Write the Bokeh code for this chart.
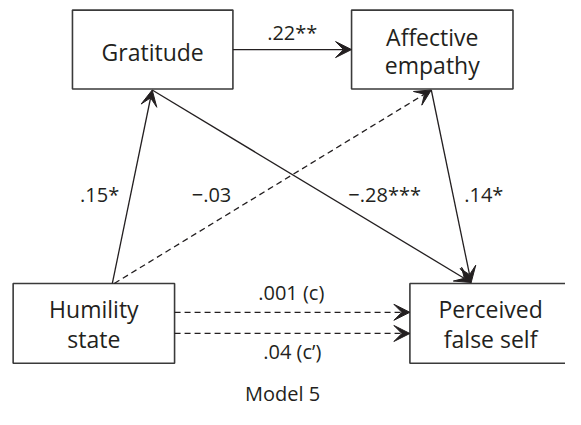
from bokeh.plotting import figure
from bokeh.models import Range1d, Arrow, VeeHead, ColumnDataSource
from bokeh.core.properties import value
from bokeh.embed import file_html
from bokeh.resources import INLINE

# ---------------- data ----------------
node_names = ["Gratitude", "Affective empathy", "Humility state", "Perceived false self"]
node_lines = [["Gratitude"], ["Affective", "empathy"], ["Humility", "state"], ["Perceived", "false self"]]
path_from = ["Gratitude", "Humility state", "Humility state", "Gratitude",
             "Affective empathy", "Humility state", "Humility state"]
path_to = ["Affective empathy", "Gratitude", "Affective empathy", "Perceived false self",
           "Perceived false self", "Perceived false self", "Perceived false self"]
coef_labels = [".22**", ".15*", "\u2212.03", "\u2212.28***", ".14*", ".001 (c)", ".04 (c\u2019)"]
significant = [True, True, False, True, True, False, False]
caption = "Model 5"

# ---------------- layout (reference pixel coordinates) ----------------
W, H = 565, 409
REF_W, REF_H = 581, 425
box_geom = {
    "Gratitude": (74, 10, 239, 92),
    "Affective empathy": (361, 10, 527, 92),
    "Humility state": (13, 294, 179, 377),
    "Perceived false self": (421, 294, 600, 377),
}
text_anchor = {  # center x, first baseline, line spacing
    "Gratitude": (156.5, 62, 29),
    "Affective empathy": (444, 46, 29),
    "Humility state": (96, 329, 31),
    "Perceived false self": (504, 329, 31),
}
path_start = [(239, 51), (115, 294), (117, 294), (156, 93), (443, 93), (179, 324), (179, 346)]
path_end = [(361, 51), (156, 93), (443, 93), (484, 293), (484, 293), (421, 324), (421, 346)]
label_pos = [(300, 42), (102, 210), (217, 210), (395, 210), (497, 210), (299, 312), (300, 373)]
caption_pos = (290, 417)
BASE_SHIFT = -8  # screen px correction for baseline placement

INK = "#231f20"
FONT = value("Open Sans")

p = figure(width=W, height=H, output_backend="svg", toolbar_location=None,
           x_range=Range1d(0, REF_W), y_range=Range1d(REF_H, 0),
           x_axis_type=None, y_axis_type=None, min_border=0,
           min_border_left=0, min_border_right=0, min_border_top=0, min_border_bottom=0)
p.outline_line_color = None
p.xgrid.visible = False
p.ygrid.visible = False
p.background_fill_color = "white"
p.border_fill_color = "white"

# boxes
left = [box_geom[n][0] for n in node_names]
top = [box_geom[n][1] for n in node_names]
right = [box_geom[n][2] for n in node_names]
bottom = [box_geom[n][3] for n in node_names]
p.quad(left=left, right=right, top=top, bottom=bottom, fill_color=None,
       line_color="#3a3a3a", line_width=1.6)

# node texts
tx, ty, tt = [], [], []
for n, lines in zip(node_names, node_lines):
    cx, by, sp = text_anchor[n]
    for i, ln in enumerate(lines):
        tx.append(cx)
        ty.append(by + i * sp)
        tt.append(ln)
p.text(x=tx, y=ty, text=tt, text_align="center", text_baseline="alphabetic",
       y_offset=BASE_SHIFT, text_font=FONT, text_font_size="23px", text_color=INK)

# paths
for sig_flag, dash in [(True, "solid"), (False, "6 4")]:
    idx = [i for i, s in enumerate(significant) if s == sig_flag]
    src = ColumnDataSource(dict(
        x0=[path_start[i][0] for i in idx], y0=[path_start[i][1] for i in idx],
        x1=[path_end[i][0] for i in idx], y1=[path_end[i][1] for i in idx]))
    p.add_layout(Arrow(source=src, x_start="x0", y_start="y0", x_end="x1", y_end="y1",
                       line_color=INK, line_width=1.3, line_dash=dash,
                       end=VeeHead(size=16, fill_color=INK, line_color=INK, line_width=1)))

# coefficient labels
p.text(x=[q[0] for q in label_pos], y=[q[1] for q in label_pos], text=coef_labels,
       text_align="center", text_baseline="alphabetic", y_offset=BASE_SHIFT,
       text_font=FONT, text_font_size="20px", text_color=INK)

# caption
p.text(x=[caption_pos[0]], y=[caption_pos[1]], text=[caption], text_align="center",
       text_baseline="alphabetic", y_offset=BASE_SHIFT, text_font=FONT,
       text_font_size="20px", text_color=INK)

open("out.html", "w").write(file_html(p, INLINE))
